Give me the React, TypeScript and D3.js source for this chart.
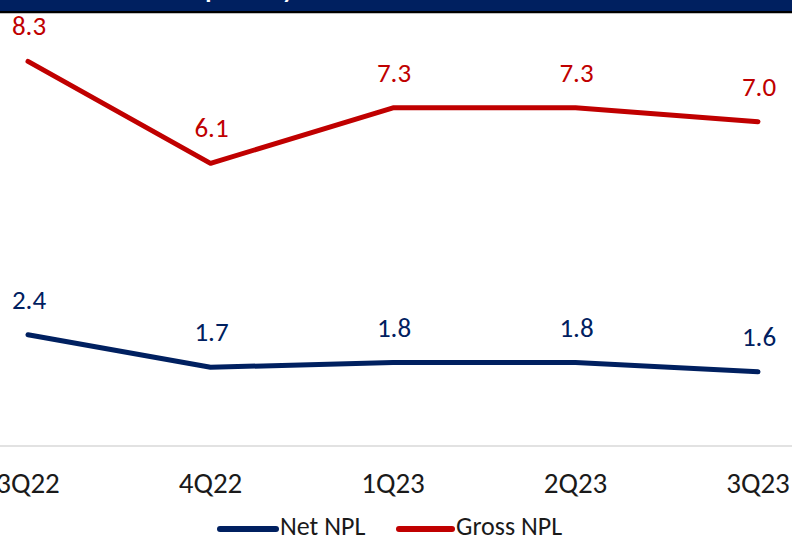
import React from "react";
import * as d3 from "d3";

const categories = ["3Q22", "4Q22", "1Q23", "2Q23", "3Q23"];
const netNPL = [2.4, 1.7, 1.8, 1.8, 1.6];
const grossNPL = [8.3, 6.1, 7.3, 7.3, 7.0];
const seriesNames = ["Net NPL", "Gross NPL"];
const titleText = "NPL ratios quarterly";

const W = 792;
const H = 538;
const NAVY = "#002060";
const RED = "#C00000";
const FONT = "Calibri, Carlito, Roboto, sans-serif";

export default function App() {
  const x = d3.scalePoint<string>().domain(categories).range([28, 758]);
  const y = d3.scaleLinear().domain([0, 9]).range([446, 29]);
  const line = d3
    .line<number>()
    .x((_, i) => x(categories[i]) as number)
    .y((d) => y(d));

  const series = [
    { name: seriesNames[0], values: netNPL, color: NAVY },
    { name: seriesNames[1], values: grossNPL, color: RED },
  ];

  const legend = [
    { name: seriesNames[0], color: NAVY, x0: 220, x1: 276, tx: 280 },
    { name: seriesNames[1], color: RED, x0: 399, x1: 452, tx: 456 },
  ];

  return (
    <svg
      width={W}
      height={H}
      style={{ position: "absolute", left: 0, top: 0, background: "#fff" }}
      fontFamily={FONT}
    >
      <rect x={0} y={0} width={W} height={H} fill="#fff" />
      {/* header bar */}
      <rect x={0} y={0} width={W} height={11} fill={NAVY} />
      <rect x={0} y={11} width={W} height={2} fill="#000" />
      <rect x={0} y={13} width={W} height={1} fill="#bfbfbf" />
      <clipPath id="hdr">
        <rect x={0} y={0} width={W} height={11} />
      </clipPath>
      <g clipPath="url(#hdr)">
        <text
          x={294}
          y={-2}
          textAnchor="end"
          fill="#fff"
          fontWeight="bold"
          fontSize={25}
        >
          {titleText}
        </text>
      </g>

      {/* axis line */}
      <line x1={0} x2={W} y1={y(0)} y2={y(0)} stroke="#d9d9d9" strokeWidth={1.5} />

      {/* tick labels */}
      {categories.map((c) => (
        <text
          key={c}
          x={x(c)}
          y={493}
          textAnchor="middle"
          fontSize={29}
          fill="#1a1a1a"
        >
          {c}
        </text>
      ))}

      {/* series */}
      {series.map((s) => (
        <g key={s.name}>
          <path
            d={line(s.values) || ""}
            fill="none"
            stroke={s.color}
            strokeWidth={5}
            strokeLinejoin="round"
            strokeLinecap="round"
          />
          {s.values.map((v, i) => (
            <text
              key={i}
              x={(x(categories[i]) as number) + 1}
              y={y(v) - 26}
              textAnchor="middle"
              fontSize={27}
              fill={s.color}
            >
              {v.toFixed(1)}
            </text>
          ))}
        </g>
      ))}

      {/* legend */}
      {legend.map((l) => (
        <g key={l.name}>
          <line
            x1={l.x0}
            x2={l.x1}
            y1={529}
            y2={529}
            stroke={l.color}
            strokeWidth={6}
            strokeLinecap="round"
          />
          <text x={l.tx} y={535} fontSize={26} fill="#1a1a1a">
            {l.name}
          </text>
        </g>
      ))}
    </svg>
  );
}
